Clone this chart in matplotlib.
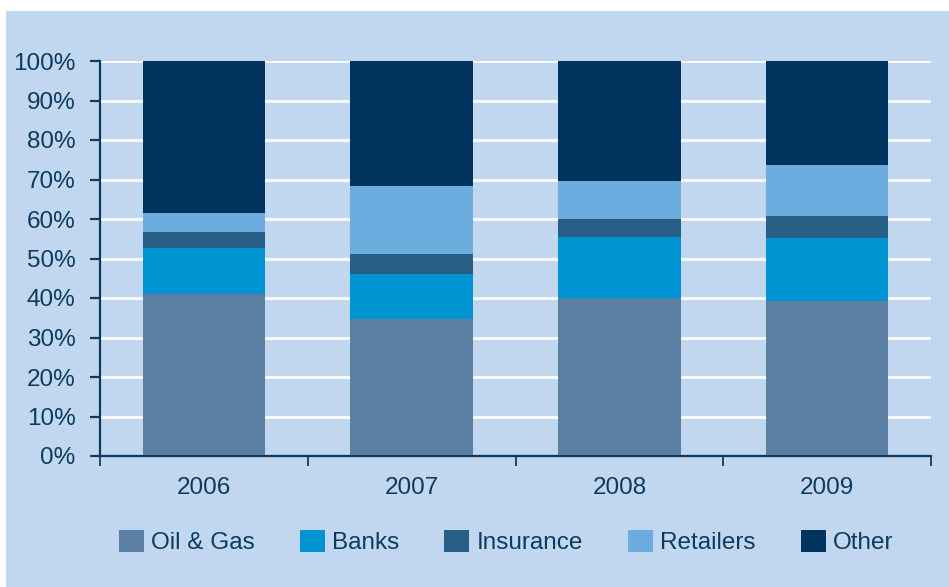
import matplotlib
matplotlib.use('Agg')
import matplotlib.pyplot as plt
from matplotlib.patches import Rectangle
import numpy as np

plt.rcParams['font.family'] = ['Liberation Sans', 'DejaVu Sans']

years = ['2006', '2007', '2008', '2009']
sectors = ['Oil & Gas', 'Banks', 'Insurance', 'Retailers', 'Other']

# share of each sector per year, in percent
oil_gas = [41.0, 34.7, 40.1, 39.2]
banks = [11.7, 11.4, 15.3, 16.0]
insurance = [4.0, 5.0, 4.6, 5.6]
retailers = [4.8, 17.3, 9.6, 12.9]
other = [38.5, 31.6, 30.4, 26.3]

series = [oil_gas, banks, insurance, retailers, other]
colors = ['#5b7fa3', '#0094d3', '#265e86', '#6dacdf', '#00345e']
bg = '#c0d7ef'
navy = '#0e3a60'
fs = 17.5

fig = plt.figure(figsize=(9.49, 5.87), dpi=100, facecolor='white')
fig.patches.append(Rectangle((6 / 949, 0), 1, 1 - 11 / 587, transform=fig.transFigure,
                             facecolor=bg, edgecolor='none', zorder=-10))

ax = fig.add_axes([100 / 949, 1 - 456 / 587, 831 / 949, 395 / 587])
ax.set_facecolor(bg)

x = np.arange(len(years))
bottom = np.zeros(len(years))
handles = []
for name, vals, c in zip(sectors, series, colors):
    b = ax.bar(x, vals, bottom=bottom, width=0.59, color=c, label=name, zorder=2)
    handles.append(b)
    bottom += np.array(vals)

ax.set_xlim(-0.5, 3.5)
ax.set_ylim(0, 100)

ax.set_yticks(np.arange(0, 101, 10))
ax.set_yticklabels([f'{v}%' for v in range(0, 101, 10)])
ax.yaxis.grid(True, color='white', linewidth=2)
ax.set_axisbelow(True)

ax.set_xticks(np.arange(-0.5, 4, 1))
ax.set_xticklabels([])
ax.set_xticks(x, minor=True)
ax.set_xticklabels(years, minor=True)

for side in ['top', 'right']:
    ax.spines[side].set_visible(False)
for side in ['left', 'bottom']:
    ax.spines[side].set_color(navy)
    ax.spines[side].set_linewidth(1.6)

ax.tick_params(axis='y', which='major', direction='out', length=7.5, width=1.6,
               color=navy, labelcolor=navy, labelsize=fs, pad=10)
ax.tick_params(axis='x', which='major', direction='out', length=7.5, width=1.3, color=navy)
ax.tick_params(axis='x', which='minor', length=0, labelcolor=navy, labelsize=fs, pad=15)

fig.legend(handles=handles, labels=sectors, loc='center', ncol=5,
           bbox_to_anchor=(506 / 949, 1 - 542 / 587), frameon=False,
           fontsize=fs, labelcolor=navy, handlelength=1.03, handleheight=1.03,
           handletextpad=0.3, columnspacing=1.85)

fig.savefig('out.png', dpi=100, facecolor=fig.get_facecolor())
